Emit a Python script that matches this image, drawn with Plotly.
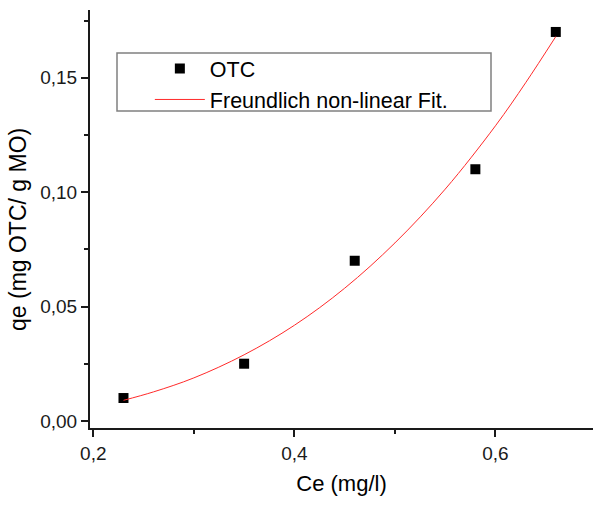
import plotly.graph_objects as go

# Experimental data
ce_data = [0.23, 0.35, 0.46, 0.58, 0.66]
qe_data = [0.010, 0.025, 0.070, 0.110, 0.170]

# Freundlich non-linear fit curve
ce_fit = [0.23, 0.26, 0.30, 0.35, 0.40, 0.45, 0.50, 0.55, 0.60, 0.63, 0.66]
qe_fit = [0.0090, 0.0127, 0.0188, 0.0289, 0.0418, 0.0580, 0.0778, 0.1013, 0.1290, 0.1478, 0.1680]

x_ticks = [0.2, 0.4, 0.6]
y_ticks = [0.00, 0.05, 0.10, 0.15]

FONT = "Liberation Sans, Arial, sans-serif"

fig = go.Figure()
fig.add_trace(go.Scatter(
    x=ce_data, y=qe_data, mode="markers", name="OTC",
    marker=dict(symbol="square", size=10, color="black", line=dict(width=0)),
))
fig.add_trace(go.Scatter(
    x=ce_fit, y=qe_fit, mode="lines", name="Freundlich non-linear Fit.",
    line=dict(color="#ff2a2a", width=1, shape="spline"),
))

axis_common = dict(
    showline=True, linecolor="#1a1a1a", linewidth=2,
    ticks="outside", ticklen=7, tickwidth=1.5, tickcolor="#1a1a1a",
    showgrid=False, zeroline=False, mirror=False,
    tickfont=dict(family=FONT, size=19, color="#1a1a1a"),
)

fig.update_layout(
    width=595, height=508,
    margin=dict(l=90, r=2, t=10, b=80),
    plot_bgcolor="white", paper_bgcolor="white",
    separators=",.",
    showlegend=True,
    legend=dict(
        x=0.119, y=0.909, xanchor="left", yanchor="top",
        borderwidth=0, bgcolor="rgba(0,0,0,0)",
        font=dict(family=FONT, size=21.5, color="black"),
        itemwidth=50, tracegroupgap=0,
    ),
    shapes=[dict(
        type="rect", xref="paper", yref="paper",
        x0=(117 - 90) / 503, x1=(491 - 90) / 503,
        y0=(428 - 111) / 418, y1=(428 - 53) / 418,
        line=dict(color="#808080", width=1.5), fillcolor="white", layer="below",
    )],
    annotations=[dict(
        text="qe (mg OTC/ g MO)", textangle=-90, showarrow=False,
        xref="paper", yref="paper", x=0, y=0.5, xanchor="center", yanchor="middle",
        xshift=-72, yshift=-11,
        font=dict(family=FONT, size=23, color="black"),
    )],
    xaxis=dict(
        **axis_common,
        range=[0.1967, 0.697], tickvals=x_ticks, tickformat=".1f",
        minor=dict(ticks="outside", ticklen=4, tickwidth=1.5, tickcolor="#1a1a1a", dtick=0.1, tick0=0.2),
        title=dict(text="Ce (mg/l)", font=dict(family=FONT, size=22, color="black"), standoff=13),
    ),
    yaxis=dict(
        **axis_common,
        range=[-0.0031, 0.1796], tickvals=y_ticks, tickformat=".2f",
        minor=dict(ticks="outside", ticklen=4, tickwidth=1.5, tickcolor="#1a1a1a", dtick=0.025, tick0=0),
    ),
)

fig.write_html("out.html")
